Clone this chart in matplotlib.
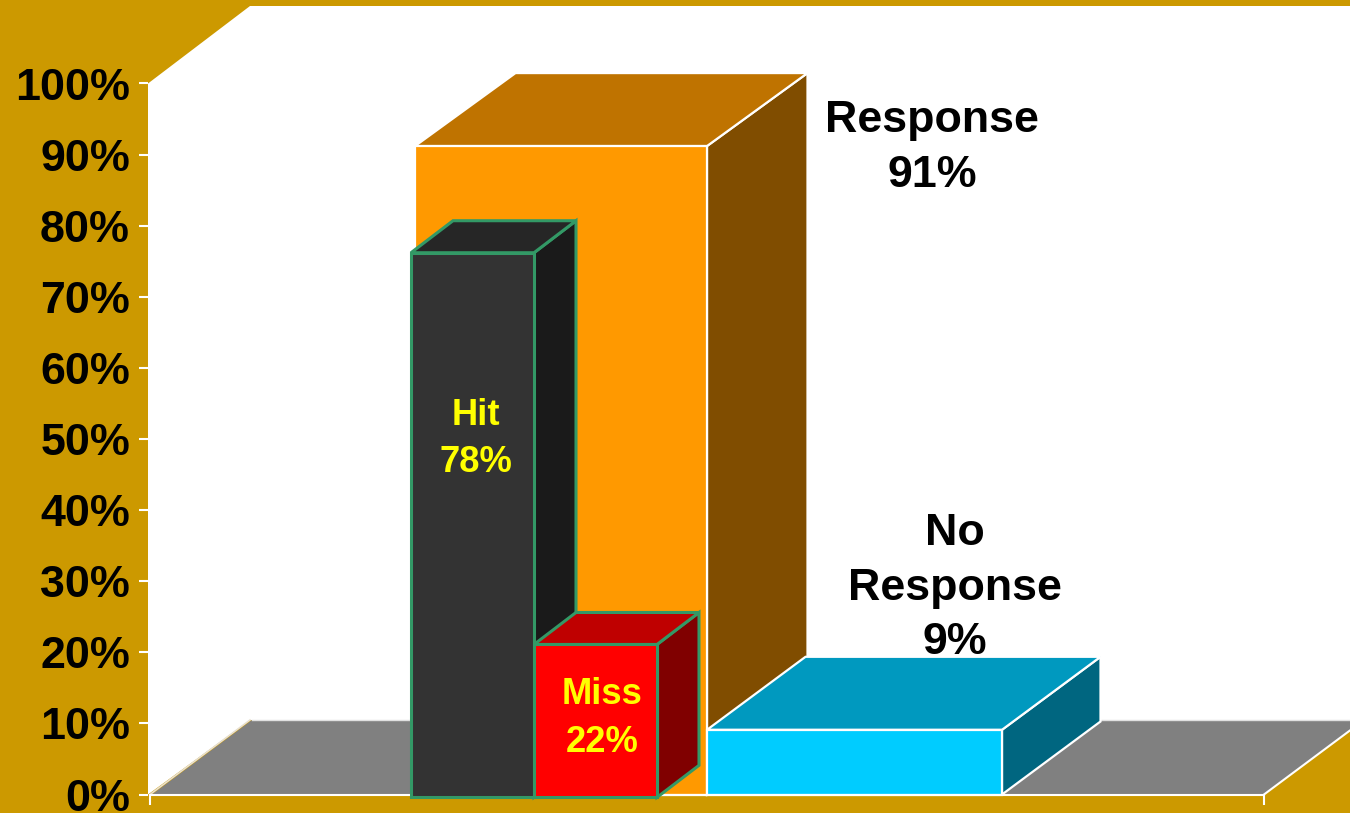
import matplotlib
matplotlib.use("Agg")
import matplotlib.pyplot as plt
from matplotlib.patches import Polygon

# ---- data ----
y_ticks = [0, 10, 20, 30, 40, 50, 60, 70, 80, 90, 100]
outer_names = ["Response", "No\nResponse"]
outer_values = [91.2, 9.1]
outer_labels = ["91%", "9%"]
inner_names = ["Hit", "Miss"]
inner_labels = [78, 22]
inner_values = [76.6, 21.5]

GOLD = "#CC9900"
W, H = 1350, 813
Y0_PX, Y100_PX = 794.5, 83.5
PX = (Y0_PX - Y100_PX) / 100          # pixels per percent

plt.rcParams["font.family"] = ["Liberation Sans", "DejaVu Sans"]
plt.rcParams["font.weight"] = "bold"
fig = plt.figure(figsize=(W / 100, H / 100), dpi=100, facecolor=GOLD)
ax = fig.add_axes([148 / W, (H - Y0_PX) / H, (W - 148) / W, (Y0_PX - Y100_PX) / H])
ax.set_xlim(148, W)
ax.set_ylim(0, 100)
ax.patch.set_alpha(0)


def poly(points, face, edge=None, lw=0, z=1):
    ax.add_patch(Polygon(points, closed=True, facecolor=face, edgecolor=edge or face,
                         linewidth=lw, clip_on=False, zorder=z, joinstyle="miter"))


def box(x0, x1, base, top, dx, dy, front, lid, side, edge, lw, z):
    """Draw a pseudo-3D bar: front face, lid and side face."""
    d = dy / PX
    poly([(x1, base), (x1 + dx, base + d), (x1 + dx, top + d), (x1, top)], side, edge, lw, z)
    poly([(x0, top), (x0 + dx, top + d), (x1 + dx, top + d), (x1, top)], lid, edge, lw, z)
    poly([(x0, base), (x1, base), (x1, top), (x0, top)], front, edge, lw, z)


# walls and floor
WALL_D = 77.5 / PX                     # wall depth in percent units
FLOOR_D = 74.5 / PX
poly([(148, 0), (250, FLOOR_D), (1400, FLOOR_D), (1400, 100 + WALL_D),
      (250, 100 + WALL_D), (148, 100)], "white", z=0.1)
poly([(152, 0), (252, FLOOR_D), (1364, FLOOR_D), (1264, 0)], "#808080", z=0.3)
ax.plot([1264, 1364], [0, FLOOR_D], color="white", lw=1.5, zorder=0.4, clip_on=False)
ax.plot([150, 250], [0, FLOOR_D], color="#E8E0D0", lw=1.2, zorder=0.4)
ax.plot([252, 1364], [FLOOR_D, FLOOR_D], color="#E0E0E0", lw=1.0, zorder=0.35, clip_on=False)

# outer bars
box(415, 707, 0, outer_values[0], 100.5, 73, "#FF9900", "#BF7300", "#804D00", "white", 1.6, 1)
box(707, 1002, 0, outer_values[1], 98.5, 73, "#00CCFF", "#0099BF", "#006680", "white", 1.6, 2)

# inner bars
BASE = -0.4
box(411, 534, BASE, BASE + inner_values[0], 42, 32, "#333333", "#262626", "#1A1A1A", "#339966", 2.2, 6)
box(534, 657, BASE, BASE + inner_values[1], 42, 32, "#FF0000", "#BF0000", "#800000", "#339966", 2.2, 7)

# axes furniture
for s in ["top", "right", "left"]:
    ax.spines[s].set_visible(False)
ax.spines["bottom"].set_color("white")
ax.spines["bottom"].set_linewidth(1.5)
ax.spines["bottom"].set_bounds(150, 1264)
ax.spines["bottom"].set_zorder(3)
ax.set_yticks(y_ticks)
ax.set_yticklabels([f"{v}%" for v in y_ticks], fontsize=32.3, fontweight="bold", color="black")
ax.tick_params(axis="y", direction="out", length=6.5, width=1.5, color="white", pad=6.5)
ax.set_xticks([150, 1264])
ax.set_xticklabels(["", ""])
ax.tick_params(axis="x", direction="out", length=7.2, width=1.5, color="white")
for t in ax.get_yticklabels():
    t.set_clip_on(False)

# labels
ax.text(932, 90.9, f"{outer_names[0]}\n{outer_labels[0]}", ha="center", va="center",
        fontsize=32.2, fontweight="bold", color="black", linespacing=1.42, zorder=10)
ax.text(955, 29.04, f"{outer_names[1]}\n{outer_labels[1]}", ha="center", va="center",
        fontsize=32.2, fontweight="bold", color="black", linespacing=1.42, zorder=1.5)
ax.text(476, 50.0, f"{inner_names[0]}\n{inner_labels[0]}%", ha="center", va="center",
        fontsize=26.2, fontweight="bold", color="#FFFF00", linespacing=1.46, zorder=10)
ax.text(602, 10.7, f"{inner_names[1]}\n{inner_labels[1]}%", ha="center", va="center",
        fontsize=26.2, fontweight="bold", color="#FFFF00", linespacing=1.46, zorder=10)

fig.savefig("out.png", dpi=100, facecolor=GOLD)
